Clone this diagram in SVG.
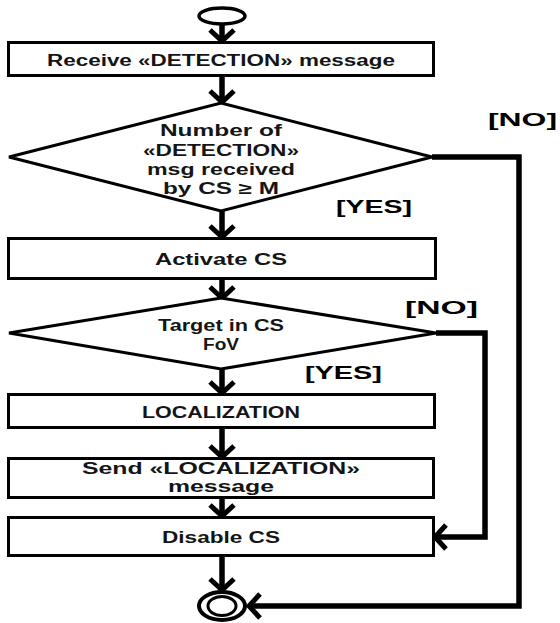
<svg xmlns="http://www.w3.org/2000/svg" width="560" height="623" viewBox="0 0 560 623">
<defs>
<marker id="chev" markerUnits="userSpaceOnUse" markerWidth="40" markerHeight="40" viewBox="-20 -20 40 40" refX="0" refY="0" orient="auto">
<path d="M-11,-12 L0,0 L-11,12" fill="none" stroke="#000" stroke-width="5"/>
</marker>
</defs>
<style>
.box{fill:#fff;stroke:#000;stroke-width:3}
.dia{fill:#fff;stroke:#000;stroke-width:3;stroke-linejoin:miter}
.t{font-family:"Liberation Sans",Arial,sans-serif;font-weight:bold;font-size:16px;fill:#151515;text-anchor:middle}
.lbl{font-family:"Liberation Sans",Arial,sans-serif;font-weight:bold;font-size:19px;fill:#000}
.c{fill:none;stroke:#000;stroke-width:5.5;marker-end:url(#chev)}
</style>
<rect width="560" height="623" fill="#fff"/>
<g id="connectors">
<path class="c" d="M222,24 V41"/>
<path class="c" d="M222,77 V102"/>
<path class="c" d="M222,211 V237"/>
<path class="c" d="M222,280 V298"/>
<path class="c" d="M222,369 V393"/>
<path class="c" d="M222,429 V457"/>
<path class="c" d="M222,499 V516"/>
<path class="c" d="M222,557 V590"/>
<path class="c" d="M432,157 H519 V606 H249"/>
<path class="c" d="M436,333 H485 V537 H435"/>
<text class="lbl" x="488" y="126" textLength="69" lengthAdjust="spacingAndGlyphs">[NO]</text>
<text class="lbl" x="336" y="213" textLength="76" lengthAdjust="spacingAndGlyphs">[YES]</text>
<text class="lbl" x="405" y="314" textLength="73" lengthAdjust="spacingAndGlyphs">[NO]</text>
<text class="lbl" x="305" y="379" textLength="77" lengthAdjust="spacingAndGlyphs">[YES]</text>
</g>
<g id="start">
<ellipse cx="222" cy="16" rx="23" ry="8" fill="#fff" stroke="#000" stroke-width="3.5"/>
</g>
<g id="receive">
<rect class="box" x="8.5" y="42.5" width="425" height="33"/>
<text class="t" x="221" y="66" textLength="348" lengthAdjust="spacingAndGlyphs">Receive «DETECTION» message</text>
</g>
<g id="decision1">
<polygon class="dia" points="221,103 432,157 221,211 9,157"/>
<text class="t" x="221" y="136" textLength="122" lengthAdjust="spacingAndGlyphs">Number of</text>
<text class="t" x="221" y="156" textLength="156" lengthAdjust="spacingAndGlyphs">«DETECTION»</text>
<text class="t" x="221" y="175" textLength="148" lengthAdjust="spacingAndGlyphs">msg received</text>
<text class="t" x="221" y="194" textLength="116" lengthAdjust="spacingAndGlyphs">by CS ≥ M</text>
</g>
<g id="activate">
<rect class="box" x="8.5" y="238.5" width="427" height="40"/>
<text class="t" x="221" y="265" textLength="132" lengthAdjust="spacingAndGlyphs">Activate CS</text>
</g>
<g id="decision2">
<polygon class="dia" points="221,298 436,333 221,369 9,333"/>
<text class="t" x="221" y="331" textLength="126" lengthAdjust="spacingAndGlyphs">Target in CS</text>
<text class="t" x="221" y="350" textLength="36" lengthAdjust="spacingAndGlyphs">FoV</text>
</g>
<g id="localization">
<rect class="box" x="8.5" y="394.5" width="426" height="33"/>
<text class="t" x="221" y="418" textLength="158" lengthAdjust="spacingAndGlyphs">LOCALIZATION</text>
</g>
<g id="send">
<rect class="box" x="8.5" y="458.5" width="425" height="39"/>
<text class="t" x="221" y="474" textLength="278" lengthAdjust="spacingAndGlyphs">Send «LOCALIZATION»</text>
<text class="t" x="221" y="492" textLength="106" lengthAdjust="spacingAndGlyphs">message</text>
</g>
<g id="disable">
<rect class="box" x="8.5" y="517.5" width="425" height="38"/>
<text class="t" x="221" y="543" textLength="118" lengthAdjust="spacingAndGlyphs">Disable CS</text>
</g>
<g id="end">
<ellipse cx="222" cy="606" rx="23" ry="14" fill="#fff" stroke="#000" stroke-width="4"/>
<ellipse cx="222" cy="606" rx="14" ry="9.5" fill="none" stroke="#000" stroke-width="3"/>
</g>
</svg>
